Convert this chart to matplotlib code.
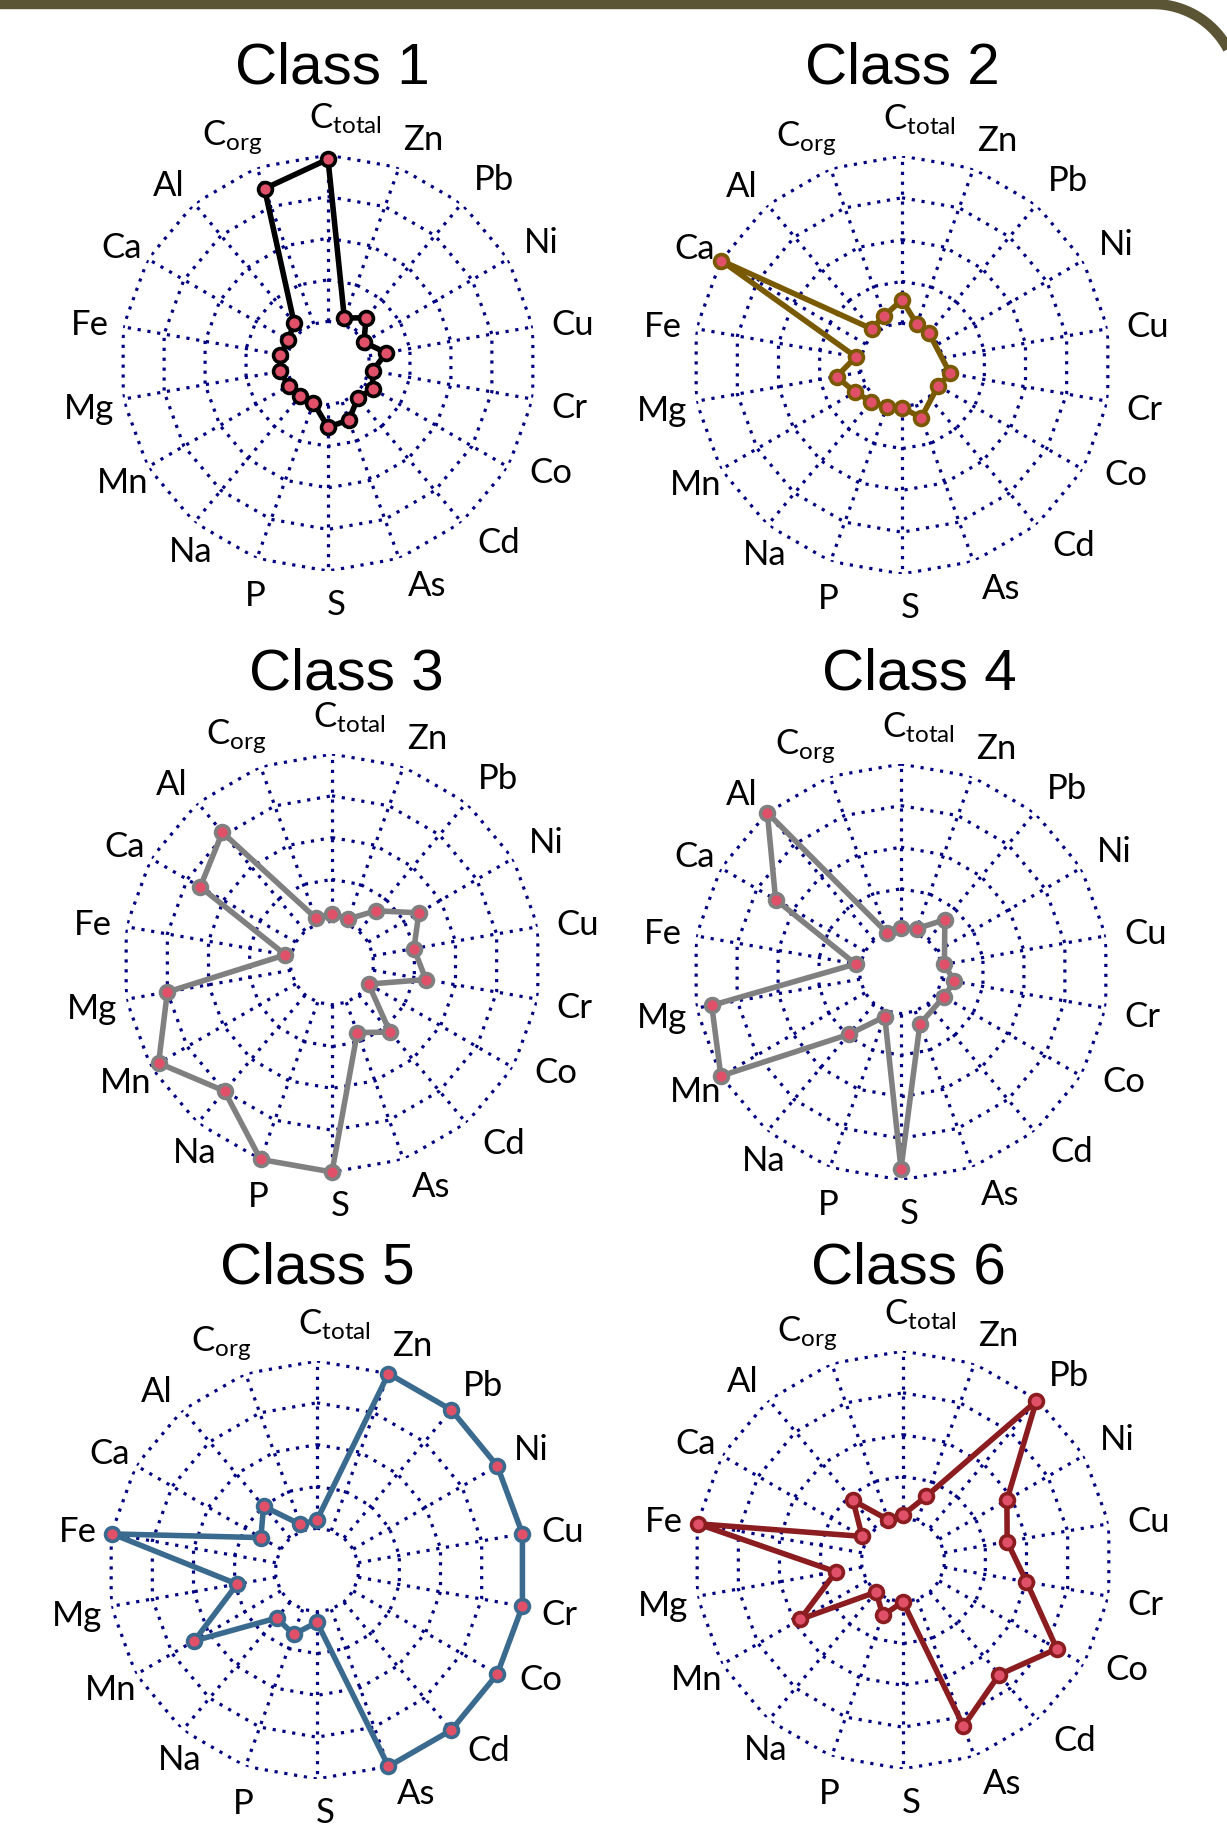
import numpy as np
import matplotlib.pyplot as plt

plt.rcParams['font.family'] = ['Lato', 'DejaVu Sans']
plt.rcParams['mathtext.fontset'] = 'custom'
plt.rcParams['mathtext.rm'] = 'Lato'
plt.rcParams['mathtext.it'] = 'Lato:italic'

########## data (ring units: 0 = inner ring, 4 = outer ring) ##########
labels = [r'C$_{\mathrm{total}}$', 'Zn', 'Pb', 'Ni', 'Cu', 'Cr', 'Co', 'Cd', 'As',
          'S', 'P', 'Na', 'Mn', 'Mg', 'Fe', 'Ca', 'Al', r'C$_{\mathrm{org}}$']
nan = np.nan

class1 = [3.90, 0.15, 0.42, 0.00, 0.42, 0.09, 0.24, 0.11, 0.46,
          0.54, 0.02, 0.04, 0.09, 0.17, 0.16, 0.10, 0.27, 3.46]
class2 = [0.56, 0.04, 0.00, nan, nan, 0.17, 0.00, nan, 0.34,
          0.02, 0.06, 0.14, 0.30, 0.59, 0.12, 4.00, 0.13, 0.25]
class3 = [0.18, 0.12, 0.63, 1.40, 0.99, 1.28, 0.01, 1.16, 0.77,
          4.00, 4.00, 3.00, 3.79, 3.00, 0.13, 2.64, 3.08, 0.15]
class4 = [0.06, 0.11, 0.64, nan, 0.06, 0.30, 0.19, nan, 0.33,
          3.73, 0.14, 0.96, 4.00, 3.62, 0.11, 2.48, 4.00, 0.01]
class5 = [0.20, 4.00, 4.00, 3.98, 3.99, 3.99, 3.98, 4.00, 4.00,
          0.25, 0.64, 0.50, 2.39, 0.94, 3.97, 0.55, 0.99, 0.16]
class6 = [0.08, 0.62, 3.96, 1.87, 1.53, 2.00, 3.25, 2.58, 3.23,
          0.00, 0.41, 0.00, 1.84, 0.63, 3.99, 0.13, 0.86, 0.02]

titles = ['Class 1', 'Class 2', 'Class 3', 'Class 4', 'Class 5', 'Class 6']
series = [class1, class2, class3, class4, class5, class6]
kolory = ['#000000', '#7A5A00', '#808080', '#808080', '#3B6A8F', '#8B1C20']

########## layout (pixels) ##########
W, H = 1227, 1833
srodki = [(328, 364, 208), (902, 366, 209), (332, 964, 209),
          (901, 973, 208), (317, 1571, 209), (903, 1561, 209)]
tytuly_xy = [(332, 84), (902, 84), (346, 690), (919, 690), (317, 1284), (908, 1284)]
# przesuniecie podpisow (stopnie) i promien podpisow (x R)
lab_dth = [4, 3, 2, 0.5, 1, 0.3, -4, -3.6, -4, -2, -2.5, -4, 0, -0.6, -0.7, -0.7, -1.8, -3]
lab_rf = [1.18, 1.17, 1.19, 1.18, 1.19, 1.18, 1.19, 1.19, 1.17, 1.16, 1.17, 1.12,
          1.14, 1.17, 1.16, 1.14, 1.15, 1.18]

fig = plt.figure(figsize=(W / 100, H / 100), dpi=100)
fig.patch.set_facecolor('white')

# ramka u gory (zaokraglony naroznik)
tlo = fig.add_axes([0, 0, 1, 1])
tlo.set_xlim(0, W)
tlo.set_ylim(H, 0)
tlo.axis('off')
rr = 85
xr = 1238
a = np.linspace(np.pi / 2, 0, 40)
bx = np.concatenate([[-20], xr - rr + rr * np.cos(a), [xr]])
by = np.concatenate([[5], 5 + rr - rr * np.sin(a), [400]])
tlo.plot(bx, by, color='#5C5535', lw=7.5, solid_capstyle='butt')

theta = np.arange(18) * 2 * np.pi / 18

for i in range(6):
    cx, cy, R = srodki[i]
    ax = fig.add_axes([(cx - R) / W, 1 - (cy + R) / H, 2 * R / W, 2 * R / H],
                      projection='polar')
    ax.set_theta_zero_location('N')
    ax.set_theta_direction(-1)
    ax.set_ylim(-1, 4)
    ax.grid(False)
    ax.set_xticks([])
    ax.set_yticks([])
    ax.spines['polar'].set_visible(False)
    ax.patch.set_alpha(0)

    # siatka
    tt = np.append(theta, theta[0])
    for k in range(5):
        ax.plot(tt, np.full(19, k), color='#000080', lw=2.3,
                linestyle=(0, (1, 2.1)), zorder=1)
    for t in theta:
        ax.plot([t, t], [0, 4], color='#000080', lw=2.3,
                linestyle=(0, (1, 2.1)), zorder=1)

    # dane
    v = np.array(series[i], dtype=float)
    m = ~np.isnan(v)
    th = np.append(theta[m], theta[m][0])
    vv = np.append(v[m], v[m][0])
    ax.plot(th, vv, color=kolory[i], lw=4.0, zorder=3, clip_on=False)
    ax.plot(theta[m], v[m], linestyle='none', marker='o', markersize=10,
            markerfacecolor='#E05169', markeredgecolor=kolory[i],
            markeredgewidth=2.6, zorder=4, clip_on=False)

    for j, lab in enumerate(labels):
        tl = theta[j] + np.deg2rad(lab_dth[j])
        ax.text(tl, -1 + 5 * lab_rf[j], lab, ha='center', va='center',
                fontsize=25, color='black')

    fig.text(tytuly_xy[i][0] / W, 1 - tytuly_xy[i][1] / H, titles[i],
             ha='center', va='baseline', fontsize=42,
             family='Liberation Sans', color='black')

fig.savefig('out.png', dpi=100, facecolor='white')
